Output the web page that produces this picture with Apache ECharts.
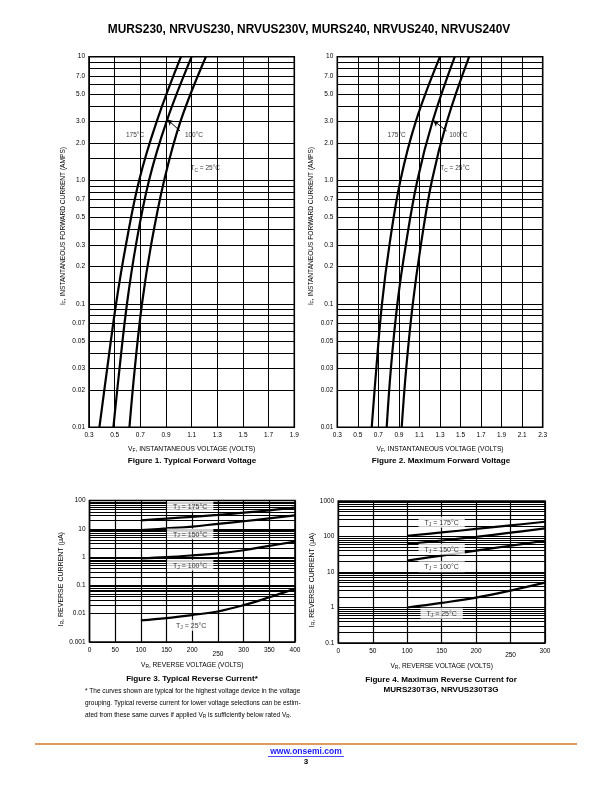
<!DOCTYPE html>
<html><head><meta charset="utf-8">
<script src="https://cdn.jsdelivr.net/npm/echarts@6/dist/echarts.min.js"></script>
<style>html,body{margin:0;padding:0;background:#fff}#c{width:612px;height:792px}</style>
</head><body><div id="c"></div>
<script>
// ---------- text ----------
const pageTitle = 'MURS230, NRVUS230, NRVUS230V, MURS240, NRVUS240, NRVUS240V';
const fig1Caption = 'Figure 1. Typical Forward Voltage';
const fig2Caption = 'Figure 2. Maximum Forward Voltage';
const fig3Caption = 'Figure 3. Typical Reverse Current*';
const fig4Caption = 'Figure 4. Maximum Reverse Current for\nMURS230T3G, NRVUS230T3G';

// ---------- Figure 1 : typical forward voltage ----------
const fig1Current = [0.01,0.03,0.1,0.3,1,3,10];
const fig1V175 = [0.381,0.442,0.511,0.588,0.691,0.828,1.017];
const fig1V100 = [0.490,0.538,0.596,0.666,0.768,0.905,1.100];
const fig1V25  = [0.615,0.657,0.713,0.784,0.886,1.013,1.211];
const fig1XTicks = [0.3,0.5,0.7,0.9,1.1,1.3,1.5,1.7,1.9];
const fig1NoteText = ['175°C','100°C','{a|T}{s|C}{a| = 25°C}'];
const fig1NoteV = [0.659,1.118,1.206];
const fig1NoteI = [2.33,2.33,1.24];
const fig1ArrowV = [1.01,0.912];
const fig1ArrowI = [2.5,3.1];

// ---------- Figure 2 : maximum forward voltage ----------
const fig2Current = [0.01,0.03,0.1,0.3,1,3,10];
const fig2V175 = [0.635,0.680,0.735,0.808,0.915,1.065,1.300];
const fig2V100 = [0.781,0.822,0.885,0.967,1.080,1.228,1.444];
const fig2V25  = [0.927,0.971,1.035,1.114,1.222,1.368,1.584];
const fig2XTicks = [0.3,0.5,0.7,0.9,1.1,1.3,1.5,1.7,1.9,2.1,2.3];
const fig2NoteText = ['175°C','100°C','{a|T}{s|C}{a| = 25°C}'];
const fig2NoteV = [0.878,1.478,1.446];
const fig2NoteI = [2.33,2.33,1.24];
const fig2ArrowV = [1.365,1.235];
const fig2ArrowI = [2.5,3.05];

// forward-chart y ticks
const fwdYTicks = [10,7,5,3,2,1,0.7,0.5,0.3,0.2,0.1,0.07,0.05,0.03,0.02,0.01];
const fwdYTickLabels = ['10','7.0','5.0','3.0','2.0','1.0','0.7','0.5','0.3','0.2','0.1','0.07','0.05','0.03','0.02','0.01'];
const fwdGridMantissas = [1,1.5,2,3,4,5,6,7,8,9];
const fwdDecades = [0.01,0.1,1];

// ---------- Figure 3 : typical reverse current ----------
const fig3Voltage = [100,150,200,250,300,350,400];
const fig3I175 = [20,23,26.5,31,37,45,56];
const fig3I150 = [9,10.3,12,15,18.5,23.5,30];
const fig3I100 = [0.9,1.0,1.15,1.35,1.75,2.5,3.5];
const fig3I25  = [0.0058,0.007,0.009,0.012,0.02,0.038,0.077];
const fig3NoteText = ['175','150','100','25'];
const fig3NoteV = [196,196,196,198];
const fig3NoteI = [62,6.5,0.52,0.0039];

// ---------- Figure 4 : maximum reverse current ----------
const fig4Voltage = [100,150,200,250,300];
const fig4I175 = [105,130,163,205,260];
const fig4I150 = [61,77,98,128,170];
const fig4I100 = [21,29,40,55,76];
const fig4I25  = [1.0,1.35,1.9,3.0,5.0];
const fig4NoteText = ['175','150','100','25'];
const fig4NoteV = [150,150,150,150];
const fig4NoteI = [250,44,14,0.69];

const revMinorMantissas = [2,3,4,5,6,7,8,9];
const fig3Decades = [0.001,0.01,0.1,1,10];
const fig4Decades = [0.1,1,10,100];

// ---------- helpers ----------
const narrow = '"Liberation Sans Narrow","Arial Narrow","Liberation Sans",Arial,sans-serif';
const plain = '"Liberation Sans",Arial,Helvetica,sans-serif';
const pts = (xs, ys) => xs.map((x, i) => [x, ys[i]]);
const clean = v => parseFloat(v.toPrecision(6));

function fwdHLines() {
  const vals = [];
  fwdDecades.forEach(d => fwdGridMantissas.forEach(m => vals.push(clean(m * d))));
  vals.push(10);
  return vals.map(v => {
    const idx = fwdYTicks.findIndex(t => Math.abs(t - v) < 1e-9);
    return idx >= 0 ? {yAxis: v, label: {show: true, formatter: fwdYTickLabels[idx]}} : {yAxis: v};
  });
}
function vLines(ticks) {
  return ticks.map(t => ({xAxis: t, label: {show: true, formatter: t.toFixed(1)}}));
}
function revHLines(decades) {
  const vals = [];
  decades.forEach(d => revMinorMantissas.forEach(m => vals.push(clean(m * d))));
  return vals.map(v => ({yAxis: v}));
}

function gridSeries(idx, data, fontFamily, width) {
  return {
    type: 'line', xAxisIndex: idx, yAxisIndex: idx, data: [], z: 1, silent: true,
    markLine: {
      silent: true, symbol: ['none', 'none'], animation: false,
      lineStyle: {color: '#000', width: width, type: 'solid'},
      label: {show: false, position: 'start', distance: 4, color: '#000', fontSize: 6.5, fontFamily: fontFamily},
      emphasis: {disabled: true},
      data: data
    }
  };
}
function curve(idx, data) {
  return {
    type: 'line', xAxisIndex: idx, yAxisIndex: idx, data: data, smooth: 0.4,
    symbol: 'none', z: 5, silent: true, clip: true,
    lineStyle: {color: '#000', width: 2.2}
  };
}
const subRich = {
  a: {fontSize: 6.5, fontFamily: narrow, color: '#000'},
  s: {fontSize: 4.8, fontFamily: narrow, color: '#000', padding: [3, 0, 0, 0]}
};
function fwdNotes(idx, texts, vs, is, av, ai) {
  return {
    type: 'scatter', xAxisIndex: idx, yAxisIndex: idx, z: 6, silent: true,
    symbolSize: 1, itemStyle: {color: 'transparent'},
    data: texts.map((t, i) => ({value: [vs[i], is[i]], name: t})),
    label: {show: true, position: 'inside', formatter: p => p.name.indexOf('{') >= 0 ? p.name : '{a|' + p.name + '}', rich: subRich},
    markLine: {
      silent: true, symbol: ['none', 'arrow'], symbolSize: [5, 6], animation: false,
      lineStyle: {color: '#000', width: 1, type: 'solid'}, label: {show: false},
      data: [[{coord: [av[0], ai[0]]}, {coord: [av[1], ai[1]]}]]
    }
  };
}
const boxRich = {
  a: {fontSize: 7, fontFamily: plain, color: '#000'},
  s: {fontSize: 5, fontFamily: plain, color: '#000', padding: [3, 0, 0, 0]}
};
function revNotes(idx, texts, vs, is) {
  return {
    type: 'scatter', xAxisIndex: idx, yAxisIndex: idx, z: 8, zlevel: 0, silent: true,
    symbolSize: 1, itemStyle: {color: 'transparent'},
    data: texts.map((t, i) => ({value: [vs[i], is[i]], name: t})),
    label: {show: true, position: 'inside', backgroundColor: '#ffffff', padding: [2, 6, 1, 6],
      formatter: p => '{a|T}{s|J}{a| = ' + p.name + '°C}', rich: boxRich}
  };
}

const gridBox = {show: true, borderColor: '#000', borderWidth: 1.6, backgroundColor: 'transparent'};
const hidden = {axisLine: {show: false}, axisTick: {show: false}, axisLabel: {show: false}, splitLine: {show: false}};
const fwdYName = {
  name: '{a|I}{s|F}{a|, INSTANTANEOUS FORWARD CURRENT (AMPS)}', nameLocation: 'middle', nameRotate: 90, nameGap: 22,
  nameTextStyle: {padding: [0, 0, 0, 32], rich: {a: {fontSize: 6.6, fontFamily: narrow, color: '#000'}, s: {fontSize: 4.8, fontFamily: narrow, color: '#000', padding: [3, 0, 0, 0]}}}
};
const fwdXName = {
  name: '{a|V}{s|F}{a|, INSTANTANEOUS VOLTAGE (VOLTS)}', nameLocation: 'middle', nameGap: 18,
  nameTextStyle: {rich: {a: {fontSize: 6.7, fontFamily: narrow, color: '#000'}, s: {fontSize: 4.8, fontFamily: narrow, color: '#000', padding: [3, 0, 0, 0]}}}
};
const revYName = {
  name: '{a|I}{s|R}{a|, REVERSE CURRENT (μA)}', nameLocation: 'middle', nameRotate: 90, nameGap: 20,
  nameTextStyle: {padding: [0, 16, 0, 0], rich: {a: {fontSize: 7, fontFamily: plain, color: '#000'}, s: {fontSize: 5, fontFamily: plain, color: '#000', padding: [3, 0, 0, 0]}}}
};
const revXName = {
  name: '{a|V}{s|R}{a|, REVERSE VOLTAGE (VOLTS)}', nameLocation: 'middle', nameGap: 19,
  nameTextStyle: {rich: {a: {fontSize: 6.6, fontFamily: plain, color: '#000'}, s: {fontSize: 4.8, fontFamily: plain, color: '#000', padding: [3, 0, 0, 0]}}}
};
const revXLabel = {
  show: true, fontSize: 6.5, fontFamily: plain, color: '#000', margin: 5,
  formatter: v => v === 250 ? '{d|250}' : String(v),
  rich: {d: {fontSize: 6.5, fontFamily: plain, color: '#000', padding: [4, 0, 0, 0]}}
};
const revYLabel = {show: true, fontSize: 6.5, fontFamily: plain, color: '#000', margin: 4, formatter: v => String(clean(v))};
const revSplit = {show: true, lineStyle: {color: '#000', width: 1.2}};
const capStyle = {fontSize: 8.1, fontWeight: 'bold', fontFamily: plain, color: '#000'};

const option = {
  animation: false,
  backgroundColor: '#fff',
  title: [
    {text: pageTitle, left: 309, top: 23.5, textAlign: 'center', padding: 0, textStyle: {fontSize: 11.9, fontWeight: 'bold', fontFamily: plain, color: '#000'}},
    {text: fig1Caption, left: 192, top: 456.5, textAlign: 'center', padding: 0, textStyle: capStyle},
    {text: fig2Caption, left: 441, top: 456.5, textAlign: 'center', padding: 0, textStyle: capStyle},
    {text: fig3Caption, left: 192, top: 674.5, textAlign: 'center', padding: 0, textStyle: capStyle},
    {text: fig4Caption, left: 441, top: 674.5, textAlign: 'center', padding: 0, textStyle: Object.assign({lineHeight: 10.5}, capStyle)},
    {text: '{a|* The curves shown are typical for the highest voltage device in the voltage}\n{a|grouping. Typical reverse current for lower voltage selections can be estim-}\n{a|ated from these same curves if applied V}{s|R}{a| is sufficiently below rated V}{s|R}{a|.}',
     left: 85, top: 685.5, padding: 0,
     textStyle: {fontWeight: 'normal', lineHeight: 12, rich: {a: {fontSize: 6.5, fontWeight: 'normal', fontFamily: narrow, color: '#000', lineHeight: 12}, s: {fontSize: 4.7, fontWeight: 'normal', fontFamily: narrow, color: '#000', padding: [3, 0, 0, 0], lineHeight: 12}}}},
    {text: 'www.onsemi.com', left: 306, top: 747, textAlign: 'center', padding: 0, textStyle: {fontSize: 8.5, fontWeight: 'bold', fontFamily: plain, color: '#1a1aff'}},
    {text: '3', left: 306, top: 758, textAlign: 'center', padding: 0, textStyle: {fontSize: 8, fontWeight: 'bold', fontFamily: plain, color: '#000'}}
  ],
  graphic: [
    {type: 'line', shape: {x1: 35, y1: 744, x2: 577, y2: 744}, style: {stroke: '#d9782d', lineWidth: 1.6}},
    {type: 'line', shape: {x1: 268, y1: 756.5, x2: 344, y2: 756.5}, style: {stroke: '#1a1aff', lineWidth: 0.8}}
  ],
  grid: [
    Object.assign({left: 89, top: 56.7, width: 205.3, height: 370.6}, gridBox),
    Object.assign({left: 337.3, top: 56.7, width: 205.4, height: 370.6}, gridBox),
    Object.assign({left: 89.5, top: 500.5, width: 205.5, height: 141.5}, gridBox),
    Object.assign({left: 338.3, top: 501, width: 206.7, height: 142}, gridBox)
  ],
  xAxis: [
    Object.assign({type: 'value', gridIndex: 0, min: 0.3, max: 1.9}, hidden, fwdXName),
    Object.assign({type: 'value', gridIndex: 1, min: 0.3, max: 2.3}, hidden, fwdXName),
    Object.assign({type: 'value', gridIndex: 2, min: 0, max: 400, interval: 50, axisLine: {show: false}, axisTick: {show: false}, axisLabel: revXLabel, splitLine: revSplit}, revXName),
    Object.assign({type: 'value', gridIndex: 3, min: 0, max: 300, interval: 50, axisLine: {show: false}, axisTick: {show: false}, axisLabel: revXLabel, splitLine: revSplit}, revXName)
  ],
  yAxis: [
    Object.assign({type: 'log', logBase: 10, gridIndex: 0, min: 0.01, max: 10}, hidden, fwdYName),
    Object.assign({type: 'log', logBase: 10, gridIndex: 1, min: 0.01, max: 10}, hidden, fwdYName),
    Object.assign({type: 'log', logBase: 10, gridIndex: 2, min: 0.001, max: 100, axisLine: {show: false}, axisTick: {show: false}, axisLabel: revYLabel, splitLine: revSplit}, revYName),
    Object.assign({type: 'log', logBase: 10, gridIndex: 3, min: 0.1, max: 1000, axisLine: {show: false}, axisTick: {show: false}, axisLabel: revYLabel, splitLine: revSplit}, revYName)
  ],
  series: [
    gridSeries(0, fwdHLines().concat(vLines(fig1XTicks)), narrow, 1),
    gridSeries(1, fwdHLines().concat(vLines(fig2XTicks)), narrow, 1),
    gridSeries(2, revHLines(fig3Decades), plain, 1.2),
    gridSeries(3, revHLines(fig4Decades), plain, 1.2),
    curve(0, pts(fig1V175, fig1Current)),
    curve(0, pts(fig1V100, fig1Current)),
    curve(0, pts(fig1V25, fig1Current)),
    curve(1, pts(fig2V175, fig2Current)),
    curve(1, pts(fig2V100, fig2Current)),
    curve(1, pts(fig2V25, fig2Current)),
    curve(2, pts(fig3Voltage, fig3I175)),
    curve(2, pts(fig3Voltage, fig3I150)),
    curve(2, pts(fig3Voltage, fig3I100)),
    curve(2, pts(fig3Voltage, fig3I25)),
    curve(3, pts(fig4Voltage, fig4I175)),
    curve(3, pts(fig4Voltage, fig4I150)),
    curve(3, pts(fig4Voltage, fig4I100)),
    curve(3, pts(fig4Voltage, fig4I25)),
    fwdNotes(0, fig1NoteText, fig1NoteV, fig1NoteI, fig1ArrowV, fig1ArrowI),
    fwdNotes(1, fig2NoteText, fig2NoteV, fig2NoteI, fig2ArrowV, fig2ArrowI),
    revNotes(2, fig3NoteText, fig3NoteV, fig3NoteI),
    revNotes(3, fig4NoteText, fig4NoteV, fig4NoteI)
  ]
};
const chart = echarts.init(document.getElementById('c'), null, {renderer: 'canvas'});
chart.setOption(option);
</script></body></html>
